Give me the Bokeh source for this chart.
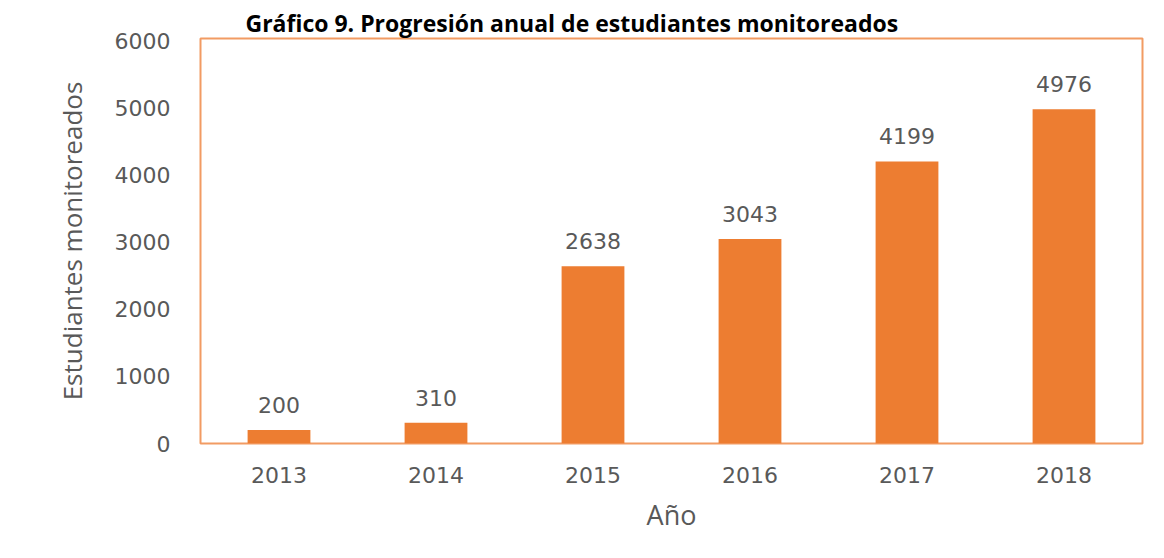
from bokeh.plotting import figure
from bokeh.models import FactorRange, Range1d, ColumnDataSource, LabelSet
from bokeh.core.properties import value
from bokeh.embed import file_html
from bokeh.resources import INLINE

years = ["2013", "2014", "2015", "2016", "2017", "2018"]
students = [200, 310, 2638, 3043, 4199, 4976]
y_ticks = [0, 1000, 2000, 3000, 4000, 5000, 6000]

title_text = "Gráfico 9. Progresión anual de estudiantes monitoreados"
x_label = "Año"
y_label = "Estudiantes monitoreados"

BAR = "#ED7D31"
FRAME = "#F29B63"
TXT = "#595959"
FONT = "DejaVu Sans"

W, H = 1148, 542
src = ColumnDataSource(dict(x=years, top=students, lab=[str(v) for v in students]))

p = figure(x_range=FactorRange(*years), y_range=Range1d(0, 6030),
           width=W, height=H, output_backend="svg", toolbar_location=None,
           min_border_left=200, min_border_right=6, min_border_top=38, min_border_bottom=99,
           title=title_text)

p.title.align = "left"
p.title.offset = 45
p.title.text_font = "Open Sans"
p.title.text_font_style = "bold"
p.title.text_font_size = "23px"
p.title.text_color = "#000000"
p.title.standoff = 0

p.vbar(x="x", top="top", width=0.40, source=src, fill_color=BAR, line_color=None)

labels = LabelSet(x="x", y="top", text="lab", source=src, text_align="center",
                  text_baseline="middle", y_offset=25, text_font=value(FONT),
                  text_font_size="22px", text_color=TXT)
p.add_layout(labels)

p.outline_line_color = FRAME
p.outline_line_width = 2
p.xgrid.visible = False
p.ygrid.visible = False
p.background_fill_color = "white"
p.border_fill_color = "white"

p.yaxis.ticker = y_ticks
for ax in (p.xaxis[0], p.yaxis[0]):
    ax.axis_line_color = None
    ax.major_tick_line_color = None
    ax.minor_tick_line_color = None
    ax.major_tick_out = 0
    ax.major_tick_in = 0
    ax.major_label_text_font = FONT
    ax.major_label_text_font_size = "22px"
    ax.major_label_text_color = TXT
    ax.axis_label_text_font = "Open Sans"
    ax.axis_label_text_font_style = "normal"
    ax.axis_label_text_color = TXT

p.yaxis.axis_label_text_font_size = "26px"
p.xaxis.axis_label_text_font_size = "27px"
p.yaxis.major_label_standoff = 30
p.xaxis.major_label_standoff = 23
p.yaxis.axis_label = y_label
p.xaxis.axis_label = x_label
p.yaxis.axis_label_standoff = 22
p.xaxis.axis_label_standoff = 10
p.x_range.range_padding = 0
p.x_range.group_padding = 0

open("out.html", "w").write(file_html(p, INLINE))
